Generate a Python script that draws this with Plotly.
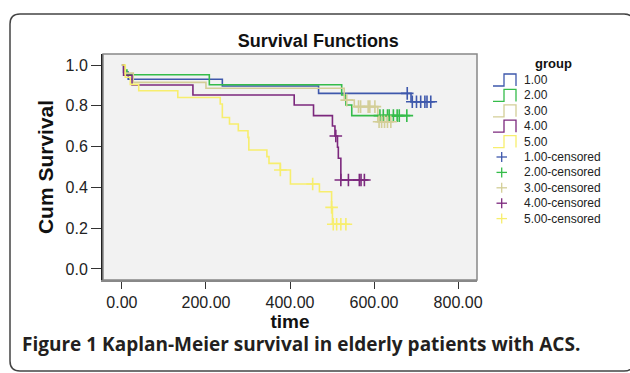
import plotly.graph_objects as go

groups = ["1.00", "2.00", "3.00", "4.00", "5.00"]
colors = ["#3E58AC", "#35BC4A", "#D3CE97", "#7C287D", "#F7EE6E"]

# step curves: event times and survival after each event (last point = end of follow-up)
t1 = [0, 4, 15, 239, 468, 688, 745]
s1 = [1.0, 0.965, 0.930, 0.897, 0.861, 0.820, 0.820]
t2 = [0, 5, 12, 208, 523, 533, 547, 686]
s2 = [1.0, 0.975, 0.952, 0.903, 0.853, 0.804, 0.752, 0.752]
t3 = [0, 5, 27, 200, 529, 553, 609, 646]
s3 = [1.0, 0.960, 0.915, 0.886, 0.828, 0.796, 0.722, 0.722]
t4 = [0, 4, 24, 169, 410, 456, 501, 507, 513, 515, 521, 587]
s4 = [1.0, 0.950, 0.902, 0.853, 0.804, 0.752, 0.701, 0.652, 0.597, 0.543, 0.436, 0.436]
t5 = [0, 8, 20, 40, 133, 234, 239, 256, 277, 300, 302, 345, 350, 377, 401, 470, 499, 501, 543]
s5 = [1.0, 0.940, 0.905, 0.874, 0.841, 0.809, 0.743, 0.711, 0.678, 0.645, 0.583, 0.551,
      0.518, 0.485, 0.417, 0.379, 0.302, 0.219, 0.219]

# censored observations
c1_t = [679, 691, 701, 711, 721, 726, 735]
c1_s = [0.861, 0.820, 0.820, 0.820, 0.820, 0.820, 0.820]
c2_t = [614, 622, 632, 636, 646, 655, 660, 678]
c2_s = [0.752, 0.752, 0.752, 0.752, 0.752, 0.752, 0.752, 0.752]
c3_t = [535, 563, 568, 586, 590, 602, 612, 618, 625, 632, 640]
c3_s = [0.828, 0.796, 0.796, 0.796, 0.796, 0.796, 0.722, 0.722, 0.722, 0.722, 0.722]
c4_t = [509, 521, 539, 565, 569, 577]
c4_s = [0.652, 0.436, 0.436, 0.436, 0.436, 0.436]
c5_t = [377, 454, 499, 503, 511, 521, 533]
c5_s = [0.485, 0.417, 0.302, 0.219, 0.219, 0.219, 0.219]

curves = [(t1, s1), (t2, s2), (t3, s3), (t4, s4), (t5, s5)]
censors = [(c1_t, c1_s), (c2_t, c2_s), (c3_t, c3_s), (c4_t, c4_s), (c5_t, c5_s)]

x_ticks = [0, 200, 400, 600, 800]
y_ticks = [0.0, 0.2, 0.4, 0.6, 0.8, 1.0]

legend_labels = groups + [g + "-censored" for g in groups]

fig = go.Figure()
for g, c, (t, s) in zip(groups, colors, curves):
    fig.add_trace(go.Scatter(x=t, y=s, mode="lines", line=dict(shape="hv", color=c, width=1.6),
                             name=g, showlegend=False))
for g, c, (t, s) in zip(groups, colors, censors):
    fig.add_trace(go.Scatter(x=t, y=s, mode="markers", name=g + "-censored", showlegend=False,
                             marker=dict(symbol="cross-thin", size=9, line=dict(color=c, width=1.6))))

font = "Liberation Sans, Arial, sans-serif"

# plot area in pixels
L, R, T, B = 103, 477, 54, 280
W, H = R - L, B - T
def px(x):
    return (x - L) / W
def py(y):
    return (B - y) / H

r = 10
x0, x1, y0, y1 = 10, 634, 14, 371
frame_path = (f"M {px(x0)},{py(y0 + r)} L {px(x0)},{py(y1 - r)} Q {px(x0)},{py(y1)} {px(x0 + r)},{py(y1)} "
              f"L {px(x1 - r)},{py(y1)} Q {px(x1)},{py(y1)} {px(x1)},{py(y1 - r)} "
              f"L {px(x1)},{py(y0 + r)} Q {px(x1)},{py(y0)} {px(x1 - r)},{py(y0)} "
              f"L {px(x0 + r)},{py(y0)} Q {px(x0)},{py(y0)} {px(x0)},{py(y0 + r)} Z")

shapes = [
    dict(type="rect", xref="paper", yref="paper", x0=0, x1=1, y0=0, y1=1,
         line=dict(color="#888", width=1.5), fillcolor="rgba(0,0,0,0)", layer="above"),
    dict(type="path", xref="paper", yref="paper", path=frame_path,
         line=dict(color="#444", width=1.5), fillcolor="rgba(0,0,0,0)"),
]
annotations = [
    dict(text="<b>Figure 1 Kaplan-Meier survival in elderly patients with ACS.</b>",
         xref="paper", yref="paper", x=px(20), y=py(344), xanchor="left", yanchor="middle",
         showarrow=False, font=dict(family="Open Sans, sans-serif", size=19, color="#231F20")),
    dict(text="<b>group</b>", xref="paper", yref="paper", x=px(553), y=py(64), xanchor="center",
         yanchor="middle", showarrow=False, font=dict(family=font, size=13, color="#111")),
]

# hand-drawn legend (step icons for curves, crosses for censored marks)
leg_y0, leg_dy = 80, 15.4
for i, lab in enumerate(legend_labels):
    yc = leg_y0 + i * leg_dy
    c = colors[i % 5]
    if i < 5:
        path = (f"M {px(493)},{py(yc + 6)} L {px(504)},{py(yc + 6)} L {px(504)},{py(yc - 6)} "
                f"L {px(516)},{py(yc - 6)} L {px(516)},{py(yc + 6)}")
        shapes.append(dict(type="path", xref="paper", yref="paper", path=path,
                           line=dict(color=c, width=1.3)))
    else:
        shapes.append(dict(type="line", xref="paper", yref="paper", x0=px(496.5), x1=px(507),
                           y0=py(yc), y1=py(yc), line=dict(color=c, width=1.3)))
        shapes.append(dict(type="line", xref="paper", yref="paper", x0=px(501.7), x1=px(501.7),
                           y0=py(yc - 5), y1=py(yc + 5), line=dict(color=c, width=1.3)))
    annotations.append(dict(text=lab, xref="paper", yref="paper", x=px(522), y=py(yc),
                            xanchor="left", yanchor="middle", showarrow=False,
                            font=dict(family=font, size=12, color="#222")))

fig.update_layout(
    width=630, height=373,
    margin=dict(l=L, r=630 - R, t=T, b=373 - B, autoexpand=False),
    paper_bgcolor="white", plot_bgcolor="#F2F2F2",
    showlegend=False,
    font=dict(family=font, size=13, color="#222"),
    title=dict(text="<b>Survival Functions</b>", x=px(292), xanchor="center", y=1 - 41 / 373,
               yanchor="middle", font=dict(size=18, color="#111")),
    xaxis=dict(range=[-45, 845], tickvals=x_ticks, ticktext=[f"{v:.2f}" for v in x_ticks],
               showgrid=False, zeroline=False, ticks="outside", ticklen=7, tickcolor="#333",
               showline=True, linecolor="#888", linewidth=1.5, automargin=False,
               title=dict(text="<b>time</b>", font=dict(size=19, color="#111"), standoff=0),
               tickfont=dict(size=16, color="#222")),
    yaxis=dict(range=[-0.054, 1.054], tickvals=y_ticks, ticktext=[f"{v:.1f}" for v in y_ticks],
               showgrid=False, zeroline=False, ticks="outside", ticklen=10, tickcolor="#333",
               showline=True, linecolor="#222", linewidth=2, automargin=False,
               title=dict(text="<b>Cum Survival</b>", font=dict(size=21, color="#111"), standoff=6),
               tickfont=dict(size=16, color="#222")),
    shapes=shapes,
    annotations=annotations,
)

fig.write_html("out.html", config={"displayModeBar": False},
               post_script="document.body.style.margin='0';document.body.style.overflow='hidden';")
